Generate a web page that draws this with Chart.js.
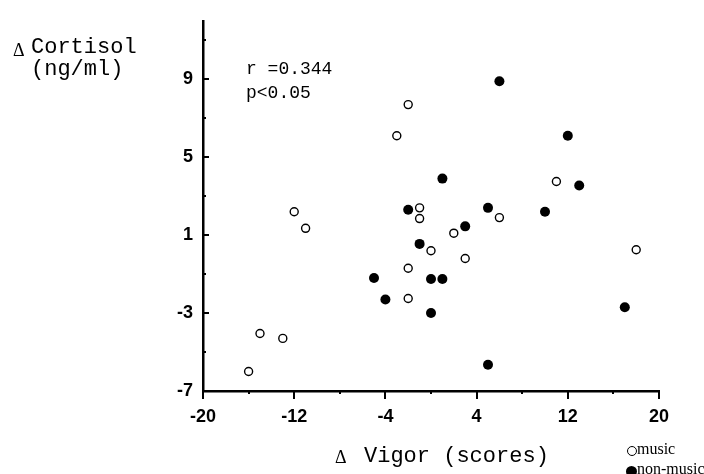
<!DOCTYPE html>
<html><head><meta charset="utf-8">
<script src="https://cdn.jsdelivr.net/npm/chart.js@4/dist/chart.umd.min.js"></script>
<style>
html,body{margin:0;padding:0;background:#fff;}
#wrap{position:relative;width:704px;height:474px;overflow:hidden;background:#fff;}
canvas{position:absolute;left:0;top:0;}
.t{position:absolute;white-space:pre;color:#000;line-height:1;}
.mono{font-family:"Liberation Mono","Courier New",monospace;}
.serif{font-family:"Liberation Serif","Times New Roman",serif;}
.dot{position:absolute;border-radius:50%;box-sizing:border-box;}
</style></head><body>
<div id="wrap">
<canvas id="c" width="704" height="474"></canvas>
<div class="t serif" style="left:13px;top:41px;font-size:18px;">Δ</div>
<div class="t mono" style="left:31px;top:37px;font-size:22px;">Cortisol</div>
<div class="t mono" style="left:31px;top:59px;font-size:22px;">(ng/ml)</div>
<div class="t mono" style="left:246px;top:60px;font-size:18px;">r =0.344</div>
<div class="t mono" style="left:246px;top:84px;font-size:18px;">p&lt;0.05</div>
<div class="t serif" style="left:335px;top:448px;font-size:18px;">Δ</div>
<div class="t mono" style="left:364px;top:446px;font-size:22px;">Vigor (scores)</div>
<div class="dot" style="left:627px;top:446px;width:10px;height:10px;border:1.4px solid #000;background:#fff;"></div>
<div class="t serif" style="left:637px;top:441px;font-size:16px;">music</div>
<div class="dot" style="left:626px;top:466px;width:11px;height:11px;background:#000;"></div>
<div class="t serif" style="left:637px;top:461px;font-size:16px;">non-music</div>
</div>
<script>
// Data
const musicX = [-2, -3, 11, -12, -11, -1, -1, 2, 0, 3, -2, -2, -15, -13, -16, 18, 6];
const musicY = [7.7, 6.1, 3.75, 2.2, 1.35, 2.4, 1.85, 1.1, 0.2, -0.2, -0.7, -2.25, -4.05, -4.3, -6.0, 0.25, 1.9];
const nonMusicX = [6, 12, 1, 13, -2, 5, 10, 3, -1, -5, 0, 1, -4, 0, 17, 5];
const nonMusicY = [8.9, 6.1, 3.9, 3.55, 2.3, 2.4, 2.2, 1.45, 0.55, -1.2, -1.25, -1.25, -2.3, -3.0, -2.7, -5.65];

const xTicks = [-20, -16, -12, -8, -4, 0, 4, 8, 12, 16, 20];
const xLabeled = [-20, -12, -4, 4, 12, 20];
const yTicks = [-7, -5, -3, -1, 1, 3, 5, 7, 9, 11];
const yLabeled = [-7, -3, 1, 5, 9];

const toPoints = (xs, ys) => xs.map((x, i) => ({x: x, y: ys[i]}));

const tickMarks = {
  id: 'tickMarks',
  afterDraw(chart) {
    const {ctx, chartArea, scales} = chart;
    ctx.save();
    ctx.strokeStyle = '#000';
    ctx.lineWidth = 2;
    xTicks.forEach(v => {
      const px = Math.round(scales.x.getPixelForValue(v));
      const len = xLabeled.includes(v) ? 8 : 3;
      ctx.beginPath();
      ctx.moveTo(px, chartArea.bottom);
      ctx.lineTo(px, chartArea.bottom + len);
      ctx.stroke();
    });
    yTicks.forEach(v => {
      const py = Math.round(scales.y.getPixelForValue(v));
      const len = yLabeled.includes(v) ? 6 : 3;
      ctx.beginPath();
      ctx.moveTo(chartArea.left, py);
      ctx.lineTo(chartArea.left + len, py);
      ctx.stroke();
    });
    ctx.restore();
  }
};

new Chart(document.getElementById('c'), {
  type: 'scatter',
  data: {
    datasets: [
      {label: 'music', data: toPoints(musicX, musicY), pointRadius: 4, pointHoverRadius: 4,
       pointBackgroundColor: '#fff', pointBorderColor: '#000', pointBorderWidth: 1.4},
      {label: 'non-music', data: toPoints(nonMusicX, nonMusicY), pointRadius: 5, pointHoverRadius: 5,
       pointBackgroundColor: '#000', pointBorderColor: '#000', pointBorderWidth: 0}
    ]
  },
  options: {
    responsive: false,
    animation: false,
    events: [],
    clip: false,
    layout: {padding: {top: 16, right: 45, left: 0, bottom: 0}},
    plugins: {legend: {display: false}, tooltip: {enabled: false}},
    scales: {
      x: {
        type: 'linear', min: -20, max: 20,
        afterBuildTicks: s => { s.ticks = xTicks.map(v => ({value: v})); },
        afterFit: s => { s.height = 83; },
        grid: {display: false, drawTicks: false},
        border: {display: true, color: '#000', width: 2.5},
        ticks: {
          autoSkip: false, maxRotation: 0, padding: 15, color: '#000',
          font: {family: '"Liberation Sans", Arial, sans-serif', size: 18, weight: 'bold'},
          callback: v => xLabeled.includes(v) ? String(v) : ''
        }
      },
      y: {
        type: 'linear', min: -7, max: 12,
        afterBuildTicks: s => { s.ticks = yTicks.map(v => ({value: v})); },
        afterFit: s => { s.width = 203; },
        grid: {display: false, drawTicks: false},
        border: {display: true, color: '#000', width: 2.5},
        ticks: {
          autoSkip: false, padding: 10, color: '#000',
          font: {family: '"Liberation Sans", Arial, sans-serif', size: 18, weight: 'bold'},
          callback: v => yLabeled.includes(v) ? String(v) : ''
        }
      }
    }
  },
  plugins: [tickMarks]
});
</script>
</body></html>
